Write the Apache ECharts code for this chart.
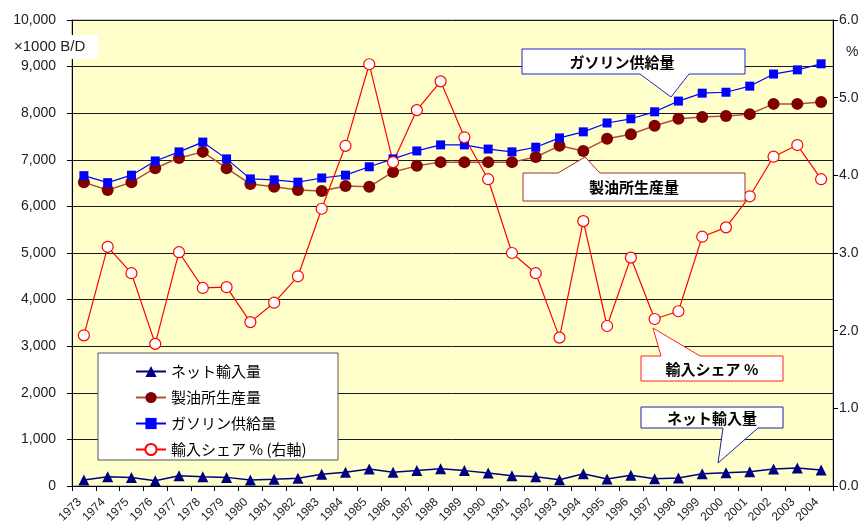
<!DOCTYPE html>
<html>
<head>
<meta charset="utf-8">
<script src="https://cdn.jsdelivr.net/npm/echarts@6/dist/echarts.min.js"></script>
<style>
  html, body { margin: 0; padding: 0; background: #ffffff; }
  #chart { width: 867px; height: 522px; }
</style>
</head>
<body>
<div id="chart"></div>
<script>
// Years on the category axis
const years = ['1973','1974','1975','1976','1977','1978','1979','1980','1981','1982',
  '1983','1984','1985','1986','1987','1988','1989','1990','1991','1992','1993',
  '1994','1995','1996','1997','1998','1999','2000','2001','2002','2003','2004'];

// Net imports (x1000 B/D)
const netImports = [130, 200, 180, 115, 220, 200, 185, 130, 145, 165,
  250, 295, 365, 295, 335, 370, 330, 280, 220, 200, 135,
  265, 150, 230, 157, 170, 265, 285, 307, 365, 385, 345];

// Refinery production (x1000 B/D)
const refinery = [6520, 6350, 6520, 6820, 7040, 7170, 6820, 6480, 6420, 6350,
  6330, 6440, 6420, 6740, 6870, 6950, 6950, 6950, 6950, 7060, 7300,
  7190, 7450, 7550, 7730, 7880, 7920, 7940, 7980, 8200, 8200, 8240];

// Gasoline supply (x1000 B/D)
const supply = [6660, 6510, 6670, 6975, 7170, 7380, 7020, 6590, 6570, 6520,
  6610, 6670, 6850, 7020, 7190, 7320, 7320, 7230, 7170, 7270, 7470,
  7600, 7790, 7880, 8030, 8260, 8430, 8450, 8580, 8840, 8930, 9060];

// Import share (%), right axis
const importShare = [1.94, 3.08, 2.74, 1.83, 3.01, 2.55, 2.56, 2.11, 2.36, 2.70,
  3.57, 4.38, 5.43, 4.17, 4.84, 5.21, 4.49, 3.95, 3.00, 2.74, 1.91,
  3.41, 2.06, 2.94, 2.15, 2.25, 3.21, 3.33, 3.73, 4.24, 4.39, 3.95];

// Axis ranges
const leftMax = 10000, leftStep = 1000;
const rightMax = 6, rightStep = 1;

const seriesNames = ['ネット輸入量', '製油所生産量', 'ガソリン供給量', '輸入シェア % (右軸)'];

const jp = '"Noto Sans CJK JP", "Liberation Sans", sans-serif';
const num = '"Liberation Sans", Arial, sans-serif';

const chart = echarts.init(document.getElementById('chart'), null, { renderer: 'canvas' });

// Callout shape: a box outline with a pointer triangle, drawn as one polygon
function callout(points, stroke) {
  return { type: 'polygon', z: 50,
    shape: { points: points },
    style: { fill: '#ffffff', stroke: stroke, lineWidth: 1 } };
}
function calloutText(x, y, txt) {
  return { type: 'text', z: 52, x: x, y: y,
    style: { text: txt, font: 'bold 15px ' + jp, fill: '#000', align: 'center', verticalAlign: 'middle' } };
}

const option = {
  animation: false,
  backgroundColor: '#ffffff',
  grid: { left: 72, right: 34, top: 20, bottom: 36, show: true,
    containLabel: false, outerBoundsMode: 'none',
    backgroundColor: '#FFFFCC', borderColor: '#8c8c8c', borderWidth: 1 },
  xAxis: {
    type: 'category', data: years, boundaryGap: true,
    axisLine: { lineStyle: { color: '#000', width: 1 } },
    axisTick: { show: true, length: 5, lineStyle: { color: '#000' } },
    axisLabel: { rotate: 45, interval: 0, fontSize: 12, color: '#222', fontFamily: num,
      margin: 10, padding: [0, 6, 0, 0] }
  },
  yAxis: [
    { type: 'value', min: 0, max: leftMax, interval: leftStep, position: 'left',
      axisLine: { show: true, lineStyle: { color: '#000' } },
      axisTick: { show: true, length: 5, lineStyle: { color: '#000' } },
      axisLabel: { fontSize: 14, color: '#222', fontFamily: num, margin: 16,
        formatter: v => v.toLocaleString('en-US') },
      splitLine: { show: true, lineStyle: { color: '#1a1a1a', width: 1 } } },
    { type: 'value', min: 0, max: rightMax, interval: rightStep, position: 'right',
      axisLine: { show: true, lineStyle: { color: '#000' } },
      axisTick: { show: true, length: 5, lineStyle: { color: '#000' } },
      axisLabel: { fontSize: 14, color: '#222', fontFamily: num, margin: 6,
        formatter: v => v.toFixed(1) },
      splitLine: { show: false } }
  ],
  legend: {
    orient: 'vertical', left: 130, top: 359, itemGap: 11,
    itemWidth: 30, itemHeight: 14,
    textStyle: { fontSize: 15, fontFamily: jp, color: '#000' },
    data: seriesNames
  },
  series: [
    { name: seriesNames[0], type: 'line', data: netImports, yAxisIndex: 0,
      symbol: 'triangle', symbolSize: 11,
      itemStyle: { color: '#000080' }, lineStyle: { color: '#000080', width: 1.5 } },
    { name: seriesNames[1], type: 'line', data: refinery, yAxisIndex: 0,
      symbol: 'circle', symbolSize: 12,
      itemStyle: { color: '#800000' }, lineStyle: { color: '#B0503A', width: 1.5 } },
    { name: seriesNames[2], type: 'line', data: supply, yAxisIndex: 0,
      symbol: 'rect', symbolSize: 9,
      itemStyle: { color: '#0000FF' }, lineStyle: { color: '#0000FF', width: 1.2 } },
    { name: seriesNames[3], type: 'line', data: importShare, yAxisIndex: 1,
      symbol: 'circle', symbolSize: 11, showAllSymbol: true,
      itemStyle: { color: '#ffffff', borderColor: '#FF0000', borderWidth: 1.2 },
      lineStyle: { color: '#FF0000', width: 1.2 } }
  ],
  graphic: [
    // unit label for the left axis
    { type: 'rect', z: 40, shape: { x: 10, y: 35, width: 88, height: 24 }, style: { fill: '#ffffff' } },
    { type: 'text', z: 41, x: 14, y: 47,
      style: { text: '×1000 B/D', font: '15px ' + num, fill: '#222', verticalAlign: 'middle' } },
    { type: 'text', z: 41, x: 846, y: 52,
      style: { text: '%', font: '14px ' + num, fill: '#222', verticalAlign: 'middle' } },
    // legend frame
    { type: 'rect', z: 3, shape: { x: 98, y: 353, width: 240, height: 107 },
      style: { fill: '#ffffff', stroke: '#555555', lineWidth: 1 } },
    // callouts
    callout([[522,49],[745,49],[745,74],[689,74],[671,97],[640,74],[522,74]], '#2020E0'),
    calloutText(622, 62, 'ガソリン供給量'),
    callout([[523,173],[558,173],[585,157],[600,173],[745,173],[745,201],[523,201]], '#A03030'),
    calloutText(634, 187, '製油所生産量'),
    callout([[641,356],[661,356],[653,328],[700,356],[783,356],[783,381],[641,381]], '#FF2020'),
    calloutText(712, 369, '輸入シェア %'),
    callout([[641,407],[783,407],[783,428],[758,428],[718,463],[723,428],[641,428]], '#2020A0'),
    calloutText(712, 418, 'ネット輸入量')
  ]
};

chart.setOption(option);
</script>
</body>
</html>
